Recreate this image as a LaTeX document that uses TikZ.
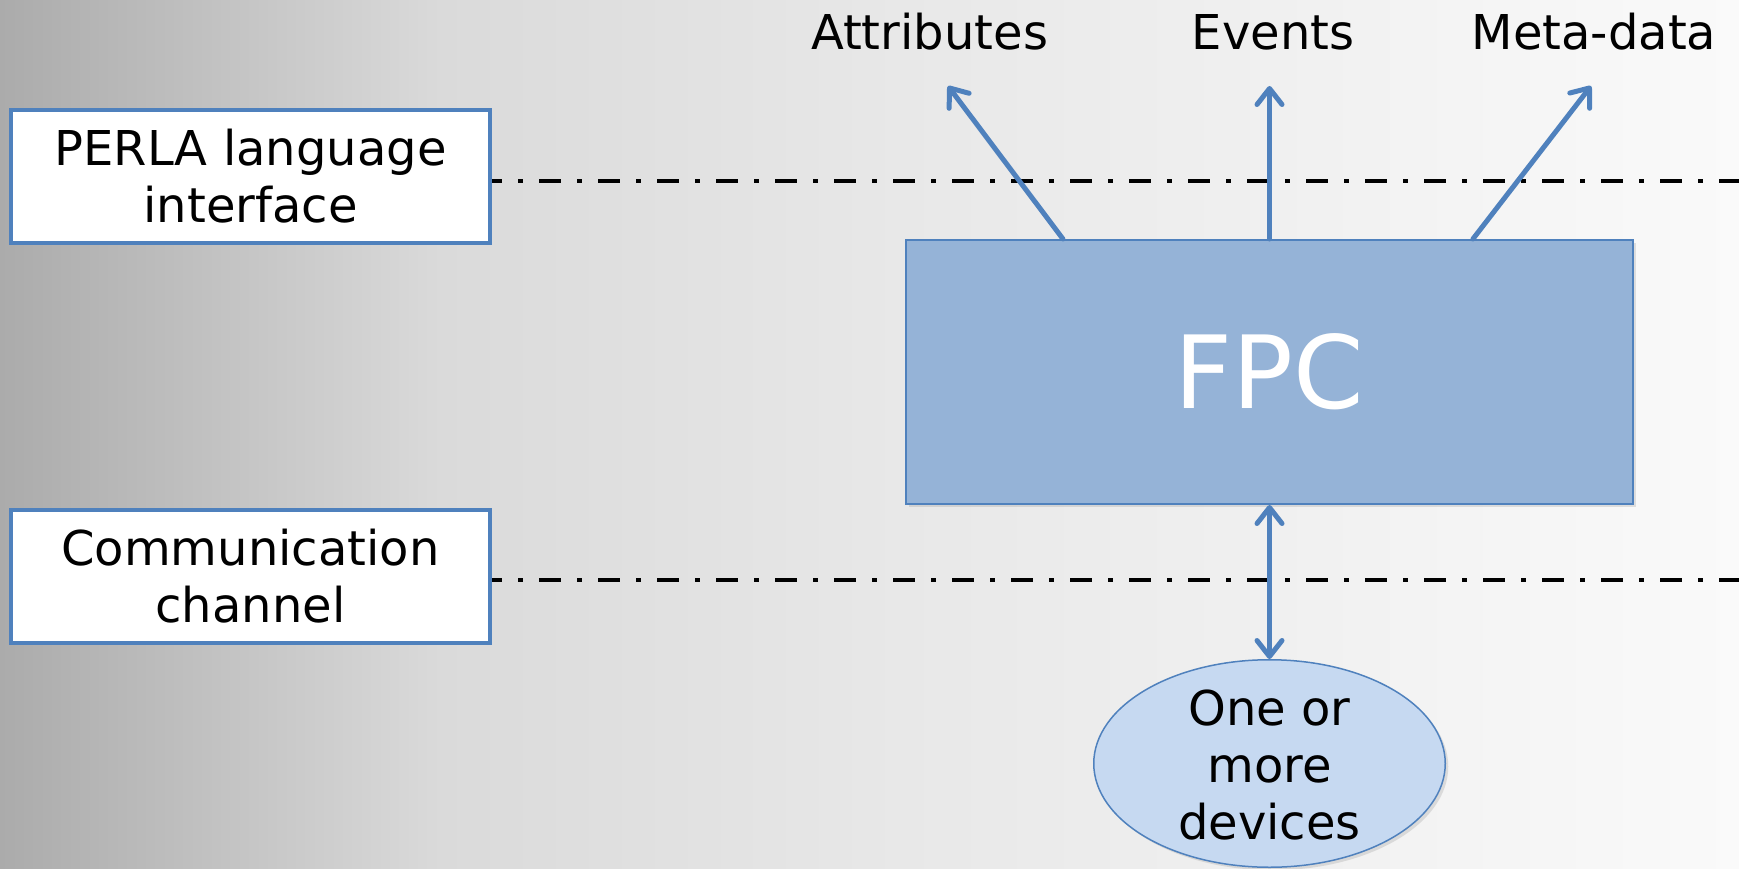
\documentclass[tikz,border=0pt]{standalone}
\usepackage{fontspec}
\setmainfont{DejaVu Sans}
\usetikzlibrary{arrows.meta,shapes.geometric,shadows,calc}

\definecolor{accent}{HTML}{4F81BD}
\definecolor{fpcfill}{HTML}{95B3D7}
\definecolor{devfill}{HTML}{C6D9F1}
\definecolor{bgA}{HTML}{ABABAB}
\definecolor{bgB}{HTML}{DADADA}
\definecolor{bgC}{HTML}{E8E8E8}
\definecolor{bgD}{HTML}{FAFAFA}

\begin{document}
\begin{tikzpicture}[x=1pt,y=-1pt,
  bodytext/.style={font=\fontsize{48}{57}\selectfont},
  layerbox/.style={bodytext, draw=accent, line width=4pt, fill=white,
    minimum width=479pt, minimum height=133pt, inner sep=0pt, align=center},
  fpcbox/.style={draw=accent, line width=2pt, fill=fpcfill, text=white,
    minimum width=727pt, minimum height=264pt, inner sep=0pt,
    font=\fontsize{101}{110}\selectfont,
    drop shadow={shadow xshift=3pt, shadow yshift=-3pt, opacity=0.22}},
  devnode/.style={ellipse, draw=accent, line width=1.5pt, fill=devfill,
    minimum width=351.5pt, minimum height=207.5pt, inner sep=0pt,
    drop shadow={shadow xshift=3pt, shadow yshift=-3pt, opacity=0.22}},
  devtext/.style={bodytext, align=center, inner sep=0pt},
  toplabel/.style={bodytext, anchor=base, inner sep=0pt},
  separator/.style={line width=4pt, black,
    dash pattern=on 22pt off 16pt on 5pt off 16pt, dash phase=12pt},
  tip/.tip={Straight Barb[length=16pt, width=25pt, round]},
  flow/.style={draw=accent, line width=5pt, line cap=round, -tip},
  flowboth/.style={flow, tip-tip}
]
\useasboundingbox (0,0) rectangle (1739,869);

% slide background: grey on the left fading to near white
\shade[left color=bgA, right color=bgB] (0,0) rectangle (441,869);
\shade[left color=bgB, right color=bgC] (440,0) rectangle (901,869);
\shade[left color=bgC, right color=bgD] (900,0) rectangle (1739,869);

% layer labels
\node[layerbox] (perla) at (250.5,176.5) {PERLA language\\interface};
\node[layerbox] (comm) at (250.5,576.5) {Communication\\channel};

% layer boundaries
\coordinate (sepTopEnd) at (1739,181);
\coordinate (sepBotEnd) at (1739,580);
\draw[separator] (perla.east |- sepTopEnd) -- (sepTopEnd);
\draw[separator] (comm.east |- sepBotEnd) -- (sepBotEnd);

% core component and devices
\node[fpcbox] (fpc) at (1269.5,372) {FPC};
\node[devnode] (dev) at (1269.5,763.5) {};
\node[devtext] (devlabel) at (1269.5,765.5) {One or\\more\\devices};

% outputs
\node[toplabel] (attr) at (929.5,50) {Attributes};
\node[toplabel] (events) at (1273,50) {Events};
\node[toplabel] (meta) at (1594,50) {Meta-data};

\coordinate (attrTip) at (948,86);
\coordinate (eventsTip) at (1269.5,86);
\coordinate (metaTip) at (1591,86);

\draw[flow] ($(fpc.north west)!0.2167!(fpc.north east)$) -- (attrTip);
\draw[flow] (fpc.north) -- (eventsTip);
\draw[flow] ($(fpc.north west)!0.779!(fpc.north east)$) -- (metaTip);
\draw[flowboth] (fpc.south) -- (dev.north);
\end{tikzpicture}
\end{document}
